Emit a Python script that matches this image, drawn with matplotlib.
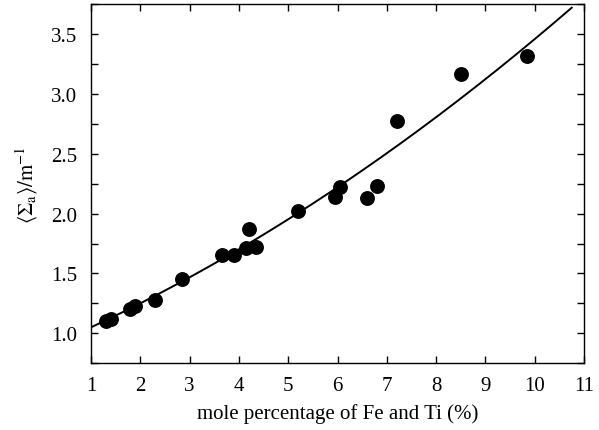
import numpy as np
import matplotlib
matplotlib.use('Agg')
import matplotlib.pyplot as plt

# measured points
mole_pct = [1.3, 1.4, 1.8, 1.9, 2.3, 2.85, 3.65, 3.9, 4.15, 4.2, 4.35,
            5.2, 5.95, 6.05, 6.6, 6.8, 7.2, 8.5, 9.85]
sigma_a = [1.10, 1.12, 1.20, 1.23, 1.28, 1.45, 1.65, 1.65, 1.71, 1.87, 1.72,
           2.02, 2.14, 2.22, 2.13, 2.23, 2.77, 3.17, 3.32]

# fitted curve (quadratic)
fit_coef = [0.00839, 0.1753, 0.8663]
fit_range = (1.0, 10.75)

plt.rcParams['font.family'] = ['Liberation Serif', 'DejaVu Serif']
plt.rcParams['mathtext.fontset'] = 'stix'

fig = plt.figure(figsize=(5.99, 4.31), dpi=100)
ax = fig.add_axes([0.152, 0.155, 0.823, 0.833])

xf = np.linspace(*fit_range, 200)
ax.plot(xf, np.polyval(fit_coef, xf), color='black', lw=1.4, zorder=2)
ax.scatter(mole_pct, sigma_a, s=115, color='black', lw=0, zorder=3)

ax.set_xlim(1, 11)
ax.set_ylim(0.75, 3.75)
ax.set_xticks(range(1, 12))
ax.set_yticks([1.0, 1.5, 2.0, 2.5, 3.0, 3.5])
ax.set_yticks(np.arange(0.75, 3.76, 0.25), minor=True)
ax.yaxis.set_major_formatter(matplotlib.ticker.FormatStrFormatter('%.1f'))
ax.tick_params(which='both', direction='in', top=True, right=True, labelsize=15, length=5, width=1)
ax.tick_params(axis='x', pad=9)
ax.tick_params(axis='y', pad=10)
for s in ax.spines.values():
    s.set_linewidth(1.0)

ax.set_xlabel('mole percentage of Fe and Ti (%)', fontsize=15, labelpad=6)
ax.set_ylabel(r'$\langle\Sigma_{\rm a}\rangle/\rm m^{-1}$', fontsize=15, labelpad=8)

fig.savefig('out.png', dpi=100)
